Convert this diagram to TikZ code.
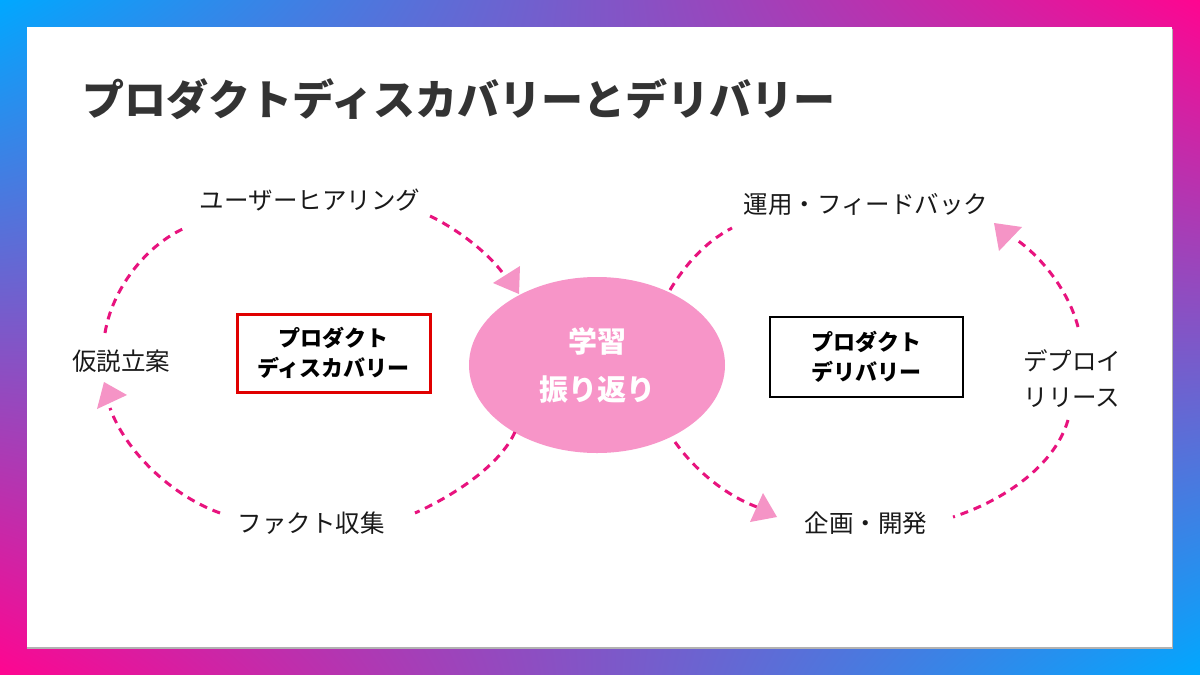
\documentclass[tikz,border=0pt]{standalone}
\usepackage{fontspec}
\setmainfont{Noto Sans CJK JP}
\usetikzlibrary{shapes.geometric,shadings}
\definecolor{bgcyan}{HTML}{00A8FF}
\definecolor{bgmag}{HTML}{FF0590}
\definecolor{titlegray}{HTML}{333333}
\definecolor{dashpink}{HTML}{E8137E}
\definecolor{tripink}{HTML}{F594C6}
\definecolor{ellpink}{HTML}{F795C8}
\definecolor{boxred}{HTML}{E00000}
\begin{document}
\begin{tikzpicture}[x=1pt,y=-1pt,
  lbl/.style={inner sep=0pt, text=black!90, font=\fontsize{24.5}{36}\selectfont, align=center},
  boxtxt/.style={font=\bfseries\fontsize{22}{30}\selectfont, align=center, text=black},
  flow/.style={draw=dashpink, line width=3pt, dash pattern=on 8pt off 6pt},
  headtri/.style={fill=tripink}
]
\useasboundingbox (0,0) rectangle (1200,675);
\shade[upper left=bgcyan, upper right=bgmag, lower left=bgmag, lower right=bgcyan] (0,0) rectangle (1200,675);
\fill[black!30] (27,29) rectangle (1172.5,649);
\fill[white] (27,27) rectangle (1172,647);

% title
\node[anchor=west, inner sep=0pt, text=titlegray, font=\bfseries\fontsize{42}{50}\selectfont] (title) at (82,99) {プロダクトディスカバリーとデリバリー};

% center ellipse
\node[ellipse, fill=ellpink, minimum width=256pt, minimum height=176pt, inner sep=0pt,
      text=white, font=\bfseries\fontsize{29}{48}\selectfont, align=center] (learn) at (597,365) {学習\\振り返り};

% boxes
\node[draw=boxred, line width=3pt, minimum width=193pt, minimum height=78pt, boxtxt] (disc) at (333.5,353) {プロダクト\\ディスカバリー};
\node[draw=black, line width=2pt, minimum width=193pt, minimum height=80pt, boxtxt] (deliv) at (866,356.5) {プロダクト\\デリバリー};

% labels
\node[lbl] (hear) at (310,200) {ユーザーヒアリング};
\node[lbl] (hypo) at (121,361) {仮説立案};
\node[lbl] (fact) at (311,523) {ファクト収集};
\node[lbl] (ops) at (866,205) {運用・フィードバック};
\node[lbl] (dep) at (1072,379) {デプロイ\\リリース};
\node[lbl] (plan) at (866,523) {企画・開発};

% connector end points
\coordinate (a1s) at (105,333); \coordinate (a1e) at (187,227);
\coordinate (a2s) at (430,216); \coordinate (a2e) at (502,272);
\coordinate (a3s) at (515,432); \coordinate (a3e) at (415,513);
\coordinate (a4s) at (220,513); \coordinate (a4e) at (110,408);
\coordinate (a5s) at (670,290); \coordinate (a5e) at (732,228);
\coordinate (a6s) at (1078,327); \coordinate (a6e) at (1017,240);
\coordinate (a7s) at (1068,420); \coordinate (a7e) at (953,517);
\coordinate (a8s) at (675,442); \coordinate (a8e) at (757,507);

% dashed connectors
\draw[flow] (a1s) .. controls (112,290) and (145,245) .. (a1e);
\draw[flow] (a2s) .. controls (455,228) and (485,250) .. (a2e);
\draw[flow] (a3s) .. controls (500,465) and (455,495) .. (a3e);
\draw[flow] (a4s) .. controls (170,495) and (125,450) .. (a4e);
\draw[flow] (a5s) .. controls (685,265) and (705,242) .. (a5e);
\draw[flow] (a6s) .. controls (1070,295) and (1045,260) .. (a6e);
\draw[flow] (a7s) .. controls (1055,465) and (1005,500) .. (a7e);
\draw[flow] (a8s) .. controls (695,470) and (725,495) .. (a8e);

% arrow heads
\fill[headtri] (493,283) -- (520,266) -- (519,294) -- cycle;
\fill[headtri] (994,223) -- (1022,227) -- (999,251) -- cycle;
\fill[headtri] (104,382) -- (127,395) -- (97,409) -- cycle;
\fill[headtri] (777,517) -- (750,522) -- (763,493) -- cycle;
\end{tikzpicture}
\end{document}
